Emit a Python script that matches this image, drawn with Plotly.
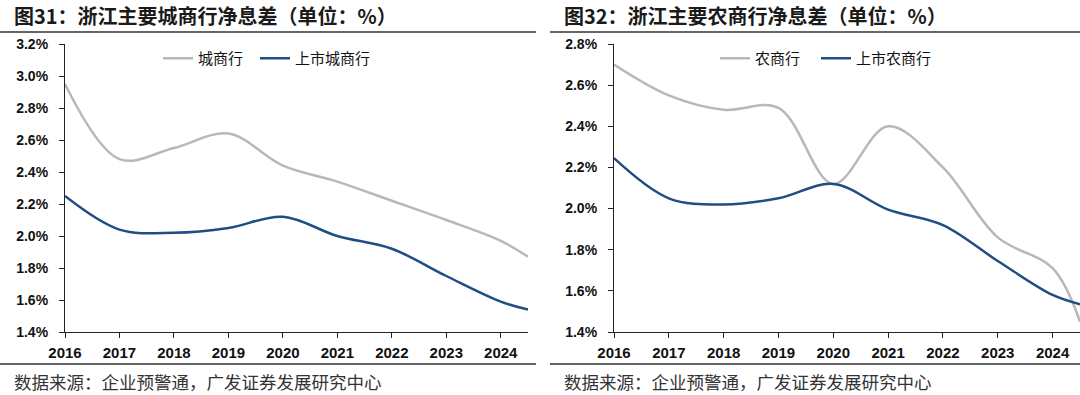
import plotly.graph_objects as go

# ---- data ----
periods = [2016, 2017, 2018, 2019, 2020, 2021, 2022, 2023, 2024, 2024.5]
year_ticks = [2016, 2017, 2018, 2019, 2020, 2021, 2022, 2023, 2024]
year_labels = ["2016", "2017", "2018", "2019", "2020", "2021", "2022", "2023", "2024"]

city_all = [2.95, 2.48, 2.55, 2.64, 2.44, 2.34, 2.22, 2.10, 1.97, 1.87]
city_listed = [2.25, 2.04, 2.02, 2.05, 2.12, 2.00, 1.92, 1.75, 1.59, 1.54]

rural_all = [2.70, 2.55, 2.48, 2.49, 2.12, 2.40, 2.20, 1.86, 1.71, 1.45]
rural_listed = [2.245, 2.05, 2.02, 2.05, 2.12, 1.995, 1.92, 1.745, 1.58, 1.535]

left_yticks = [1.4, 1.6, 1.8, 2.0, 2.2, 2.4, 2.6, 2.8, 3.0, 3.2]
left_ylabels = ["1.4%", "1.6%", "1.8%", "2.0%", "2.2%", "2.4%", "2.6%", "2.8%", "3.0%", "3.2%"]
right_yticks = [1.4, 1.6, 1.8, 2.0, 2.2, 2.4, 2.6, 2.8]
right_ylabels = ["1.4%", "1.6%", "1.8%", "2.0%", "2.2%", "2.4%", "2.6%", "2.8%"]

title_left = "图31：浙江主要城商行净息差（单位：%）"
title_right = "图32：浙江主要农商行净息差（单位：%）"
source_text = "数据来源：企业预警通，广发证券发展研究中心"

GRAY = "#B8B8B8"
BLUE = "#1F4E84"
W, H = 1080, 395
CJK = "Noto Sans CJK SC"
LAT = "Liberation Sans"

fig = go.Figure()

fig.add_trace(go.Scatter(x=periods, y=city_all, name="城商行", mode="lines",
                         line=dict(color=GRAY, width=2.5, shape="spline", smoothing=1.0),
                         xaxis="x", yaxis="y", legend="legend"))
fig.add_trace(go.Scatter(x=periods, y=city_listed, name="上市城商行", mode="lines",
                         line=dict(color=BLUE, width=2.5, shape="spline", smoothing=1.0),
                         xaxis="x", yaxis="y", legend="legend2"))
fig.add_trace(go.Scatter(x=periods, y=rural_all, name="农商行", mode="lines",
                         line=dict(color=GRAY, width=2.5, shape="spline", smoothing=1.0),
                         xaxis="x2", yaxis="y2", legend="legend3"))
fig.add_trace(go.Scatter(x=periods, y=rural_listed, name="上市农商行", mode="lines",
                         line=dict(color=BLUE, width=2.5, shape="spline", smoothing=1.0),
                         xaxis="x2", yaxis="y2", legend="legend4"))

def px_x(p):
    return p / W

def px_y(p):
    return 1 - p / H

ybot, ytop = px_y(332), px_y(44)

xcommon = dict(range=[2016, 2024.5], tickvals=year_ticks, ticktext=year_labels,
               showgrid=False, zeroline=False, showline=True, linecolor="#222", linewidth=1.2,
               ticks="outside", ticklen=5, tickcolor="#222", tickwidth=1.2,
               tickfont=dict(family=LAT, size=15, color="#111", weight="bold"),
               ticklabelstandoff=2, automargin=False)
ycommon = dict(showgrid=False, zeroline=False, showline=True, linecolor="#222", linewidth=1.2,
               ticks="outside", ticklen=5, tickcolor="#222", tickwidth=1.2,
               tickfont=dict(family=LAT, size=14, color="#111", weight="bold"),
               ticklabelstandoff=8, automargin=False)

legend_common = dict(orientation="h", xanchor="left", yanchor="top",
                     font=dict(family=CJK, size=15, color="#111"), bgcolor="rgba(0,0,0,0)",
                     itemwidth=30, tracegroupgap=0)

fig.update_layout(
    width=W, height=H, margin=dict(l=0, r=0, t=0, b=0),
    paper_bgcolor="white", plot_bgcolor="white",
    xaxis=dict(domain=[px_x(65), px_x(528)], anchor="y", **xcommon),
    yaxis=dict(domain=[ybot, ytop], anchor="x", range=[1.4, 3.2],
               tickvals=left_yticks, ticktext=left_ylabels, **ycommon),
    xaxis2=dict(domain=[px_x(614), 1.0], anchor="y2", **xcommon),
    yaxis2=dict(domain=[ybot, ytop], anchor="x2", range=[1.4, 2.8],
                tickvals=right_yticks, ticktext=right_ylabels, **ycommon),
    legend=dict(x=px_x(158), y=px_y(42), **legend_common),
    legend2=dict(x=px_x(255), y=px_y(42), **legend_common),
    legend3=dict(x=px_x(715), y=px_y(42), **legend_common),
    legend4=dict(x=px_x(816), y=px_y(42), **legend_common),
    showlegend=True,
)

# titles and source notes
for xx, txt in [(12, title_left), (562, title_right)]:
    fig.add_annotation(x=px_x(xx), y=px_y(16), xref="paper", yref="paper", text=txt,
                       showarrow=False, xanchor="left", yanchor="middle",
                       font=dict(family=CJK, size=20, color="#1a1a1a", weight="bold"))
    fig.add_annotation(x=px_x(xx), y=px_y(381), xref="paper", yref="paper", text=source_text,
                       showarrow=False, xanchor="left", yanchor="middle",
                       font=dict(family=CJK, size=17.5, color="#333"))

# separator lines
for x0, x1 in [(0, 536), (550, 1080)]:
    for yy in (32, 364):
        fig.add_shape(type="line", xref="paper", yref="paper",
                      x0=px_x(x0), x1=px_x(x1), y0=px_y(yy), y1=px_y(yy),
                      line=dict(color="#333", width=1.5))

fig.write_html("out.html", config={"displayModeBar": False},
               post_script="document.body.style.margin='0';document.body.style.overflow='hidden';")
